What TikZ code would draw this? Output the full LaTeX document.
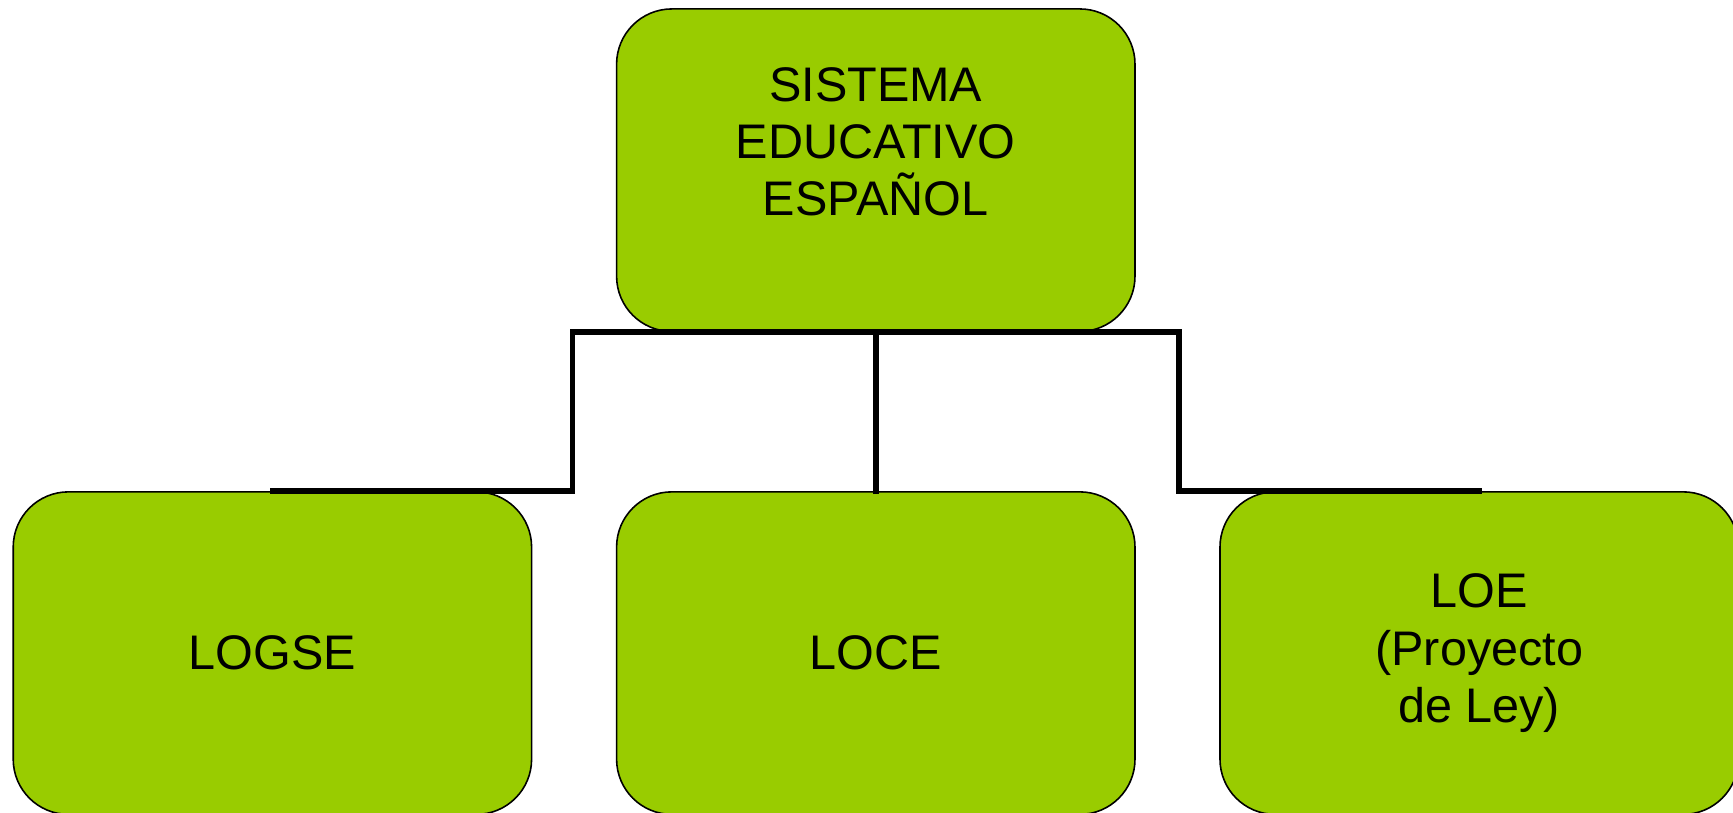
\documentclass[tikz,border=0pt]{standalone}
\usepackage{fontspec}
\setmainfont{Liberation Sans}
\usepackage{tikz}
\definecolor{boxgreen}{HTML}{99CC00}
\tikzset{%
            base/.style = {rectangle, rounded corners=1.1cm, draw=black, line width=0.9pt,
                           minimum width=10.32cm, minimum height=6.42cm,
                           text centered, font=\fontsize{27.5}{32.5}\selectfont},
  box0/.style = {base, fill=boxgreen, align=center},
  conn/.style = {line width=3.2pt, line cap=rect},
}
\begin{document}
\begin{tikzpicture}[node distance=1.5cm]
  \useasboundingbox (0,0) rectangle (34.5,-16.17);
  \clip (0,0) rectangle (34.5,-16.17);

  \node (onSistema) [box0] at (17.435,-3.388)            {SISTEMA\\ EDUCATIVO\\ ESPAÑOL\\ ~};
  \node (onLoce)    [box0, below of=onSistema, yshift=-8.114cm] {LOCE};
  \node (onLogse)   [box0, left of=onLoce,  xshift=-10.512cm]   {LOGSE};
  \node (onLoe)     [box0, right of=onLoce, xshift= 10.512cm]   
  {LOE\\ 
   (Proyecto\\ 
   de Ley)};

  \draw[conn] (onLogse.north) -| ([xshift=-0.86cm]onSistema.south west)
              -- ([xshift=0.86cm]onSistema.south east) |- (onLoe.north);
  \draw[conn] (onSistema.south) -- (onLoce.north);
\end{tikzpicture}
\end{document}
